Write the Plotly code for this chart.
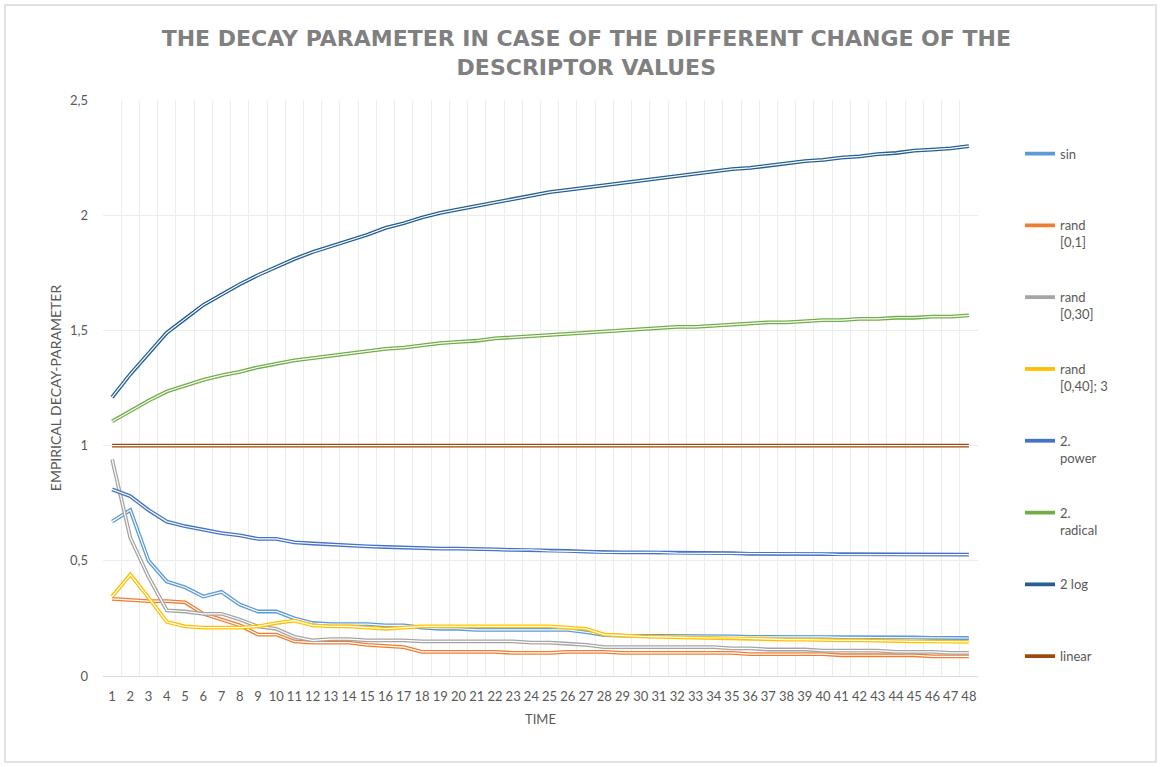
import plotly.graph_objects as go

time = list(range(1, 49))

sin_vals = [0.67, 0.72, 0.50, 0.41, 0.385, 0.345, 0.365, 0.31, 0.28, 0.28, 0.25, 0.23,
            0.225, 0.225, 0.225, 0.22, 0.22, 0.21, 0.205, 0.205, 0.2, 0.2, 0.2, 0.2,
            0.2, 0.2, 0.19, 0.178, 0.175, 0.175, 0.175, 0.172, 0.172, 0.172, 0.172, 0.17,
            0.17, 0.172, 0.172, 0.17, 0.168, 0.168, 0.168, 0.168, 0.168, 0.165, 0.165, 0.165]
rand_01 = [0.335, 0.33, 0.325, 0.325, 0.32, 0.27, 0.245, 0.22, 0.18, 0.18, 0.15, 0.145,
           0.145, 0.145, 0.135, 0.13, 0.125, 0.105, 0.105, 0.105, 0.105, 0.105, 0.1, 0.1,
           0.1, 0.105, 0.105, 0.105, 0.1, 0.1, 0.1, 0.1, 0.1, 0.1, 0.1, 0.095,
           0.095, 0.095, 0.095, 0.095, 0.09, 0.09, 0.09, 0.09, 0.09, 0.085, 0.085, 0.085]
rand_030 = [0.94, 0.60, 0.43, 0.285, 0.28, 0.27, 0.27, 0.245, 0.215, 0.205, 0.17, 0.155,
            0.16, 0.16, 0.155, 0.155, 0.155, 0.15, 0.15, 0.15, 0.15, 0.15, 0.15, 0.145,
            0.145, 0.14, 0.135, 0.125, 0.125, 0.125, 0.125, 0.125, 0.125, 0.125, 0.12, 0.12,
            0.115, 0.115, 0.115, 0.11, 0.11, 0.11, 0.11, 0.105, 0.105, 0.105, 0.1, 0.1]
rand_040 = [0.345, 0.44, 0.34, 0.235, 0.215, 0.21, 0.21, 0.21, 0.215, 0.23, 0.24, 0.22,
            0.215, 0.215, 0.21, 0.205, 0.21, 0.215, 0.215, 0.215, 0.215, 0.215, 0.215, 0.215,
            0.215, 0.21, 0.205, 0.18, 0.175, 0.172, 0.17, 0.168, 0.165, 0.165, 0.165, 0.162,
            0.16, 0.158, 0.158, 0.155, 0.155, 0.155, 0.152, 0.152, 0.15, 0.15, 0.148, 0.148]
power2 = [0.81, 0.78, 0.72, 0.67, 0.65, 0.635, 0.62, 0.61, 0.595, 0.595, 0.58, 0.575,
          0.57, 0.567, 0.563, 0.56, 0.557, 0.553, 0.553, 0.553, 0.553, 0.55, 0.547, 0.547,
          0.543, 0.543, 0.54, 0.537, 0.537, 0.537, 0.537, 0.533, 0.533, 0.533, 0.533, 0.53,
          0.53, 0.53, 0.53, 0.53, 0.527, 0.527, 0.527, 0.527, 0.527, 0.527, 0.527, 0.527]
radical2 = [1.105, 1.15, 1.195, 1.235, 1.26, 1.285, 1.305, 1.32, 1.34, 1.355, 1.37, 1.38,
            1.39, 1.40, 1.41, 1.42, 1.425, 1.435, 1.445, 1.45, 1.455, 1.465, 1.47, 1.475,
            1.48, 1.485, 1.49, 1.495, 1.50, 1.505, 1.51, 1.515, 1.515, 1.52, 1.525, 1.53,
            1.535, 1.535, 1.54, 1.545, 1.545, 1.55, 1.55, 1.555, 1.555, 1.56, 1.56, 1.565]
log2 = [1.21, 1.31, 1.40, 1.49, 1.55, 1.61, 1.655, 1.70, 1.74, 1.775, 1.81, 1.84,
        1.865, 1.89, 1.915, 1.945, 1.965, 1.99, 2.01, 2.025, 2.04, 2.055, 2.07, 2.085,
        2.10, 2.11, 2.12, 2.13, 2.14, 2.15, 2.16, 2.17, 2.18, 2.19, 2.20, 2.205,
        2.215, 2.225, 2.235, 2.24, 2.25, 2.255, 2.265, 2.27, 2.28, 2.285, 2.29, 2.30]
linear = [1.0, 1.0, 1.0, 1.0, 1.0, 1.0, 1.0, 1.0, 1.0, 1.0, 1.0, 1.0,
          1.0, 1.0, 1.0, 1.0, 1.0, 1.0, 1.0, 1.0, 1.0, 1.0, 1.0, 1.0,
          1.0, 1.0, 1.0, 1.0, 1.0, 1.0, 1.0, 1.0, 1.0, 1.0, 1.0, 1.0,
          1.0, 1.0, 1.0, 1.0, 1.0, 1.0, 1.0, 1.0, 1.0, 1.0, 1.0, 1.0]

series_names = ["sin<br>&nbsp;", "rand<br>[0,1]", "rand<br>[0,30]", "rand<br>[0,40]; 3",
                "2.<br>power", "2.<br>radical", "2 log<br>&nbsp;", "linear<br>&nbsp;"]
series_values = [sin_vals, rand_01, rand_030, rand_040, power2, radical2, log2, linear]
series_colors = ["#5B9BD5", "#ED7D31", "#A5A5A5", "#FFC000",
                 "#4472C4", "#70AD47", "#255E91", "#9E480E"]

y_ticks = [0, 0.5, 1, 1.5, 2, 2.5]
y_ticklabels = ["0", "0,5", "1", "1,5", "2", "2,5"]

font_name = "Lato"
text_grey = "#595959"
grid_grey = "#ececec"

fig = go.Figure()

# excel-style double line: thick coloured stroke with a thin white core
for i in range(len(series_names)):
    fig.add_trace(go.Scatter(x=time, y=series_values[i], name=series_names[i],
                             mode="lines", legendgroup=str(i),
                             line=dict(color=series_colors[i], width=3.8)))
    fig.add_trace(go.Scatter(x=time, y=series_values[i], mode="lines",
                             legendgroup=str(i), showlegend=False, hoverinfo="skip",
                             line=dict(color="white", width=1.2)))

fig.update_layout(
    width=1161, height=767,
    paper_bgcolor="white", plot_bgcolor="white",
    margin=dict(l=103, r=183, t=100, b=91),
    font=dict(family=font_name, size=13, color=text_grey),
    title=dict(text="THE DECAY PARAMETER IN CASE OF THE DIFFERENT CHANGE OF THE<br>DESCRIPTOR VALUES",
               x=0.505, xref="container", xanchor="center",
               y=1 - 46 / 767, yref="container", yanchor="middle",
               font=dict(family="DejaVu Sans", size=22, color="#808080", weight="bold")),
    legend=dict(x=1.048, xanchor="left", y=0.933, yanchor="top",
                valign="top", tracegroupgap=35,
                font=dict(family=font_name, size=13, color=text_grey),
                bgcolor="rgba(0,0,0,0)"),
    showlegend=True,
)

fig.update_xaxes(
    range=[0.5, 48.5], tickmode="linear", tick0=1, dtick=1,
    showgrid=False, showline=True, linecolor="#d9d9d9", linewidth=1,
    ticks="", ticklabelstandoff=8, zeroline=False,
    tickfont=dict(family=font_name, size=13, color=text_grey),
    minor=dict(tick0=0.5, dtick=1, showgrid=True, gridcolor=grid_grey, gridwidth=1),
    title=dict(text="TIME", standoff=12, font=dict(family=font_name, size=13, color=text_grey)),
)
fig.update_yaxes(
    range=[0, 2.5], tickmode="array", tickvals=y_ticks, ticktext=y_ticklabels,
    showgrid=True, gridcolor=grid_grey, gridwidth=1, zeroline=False,
    ticks="", ticklabelstandoff=14,
    tickfont=dict(family=font_name, size=13, color=text_grey),
    title=dict(text="EMPIRICAL DECAY-PARAMETER", standoff=5,
               font=dict(family=font_name, size=14, color=text_grey)),
)

# light frame around the whole chart area
fig.add_shape(type="rect", xref="paper", yref="paper",
              x0=(5 - 103) / 875, x1=(1156 - 103) / 875,
              y0=(676 - 762) / 576, y1=(676 - 5) / 576,
              line=dict(color="#d9d9d9", width=1.5), layer="below")

# drop the default page margin so the figure sits at the window origin
fig.write_html("out.html", config={"displayModeBar": False},
               post_script="document.body.style.margin='0';")
